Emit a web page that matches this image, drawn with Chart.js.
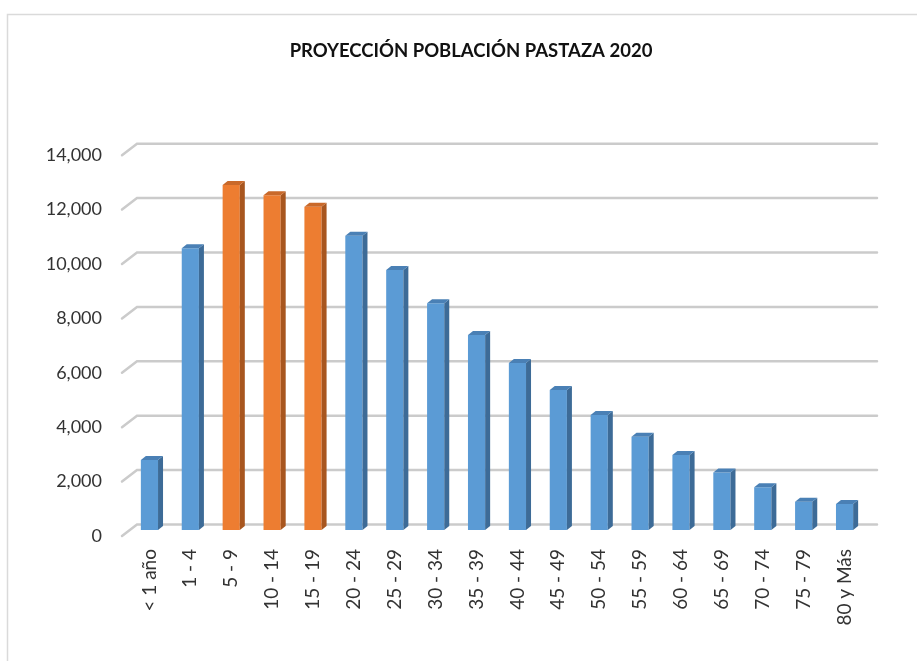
<!DOCTYPE html>
<html>
<head>
<meta charset="utf-8">
<script src="https://cdn.jsdelivr.net/npm/chart.js@4.4.1/dist/chart.umd.min.js"></script>
<style>
  html, body { margin: 0; padding: 0; background: #ffffff; }
  #wrap { position: relative; width: 917px; height: 661px; }
  canvas { display: block; }
</style>
</head>
<body>
<div id="wrap"><canvas id="c" width="917" height="661"></canvas></div>
<script>
// ---- data ----
const categories = ['< 1 año', '1 - 4', '5 - 9', '10 - 14', '15 - 19', '20 - 24', '25 - 29', '30 - 34', '35 - 39',
  '40 - 44', '45 - 49', '50 - 54', '55 - 59', '60 - 64', '65 - 69', '70 - 74', '75 - 79', '80 y Más'];
const population = [2570, 10360, 12680, 12310, 11880, 10820, 9560, 8340, 7170,
  6140, 5150, 4230, 3430, 2760, 2110, 1570, 1040, 960];
const highlightedGroups = ['5 - 9', '10 - 14', '15 - 19'];
const yTicks = [0, 2000, 4000, 6000, 8000, 10000, 12000, 14000];
const chartTitle = 'PROYECCIÓN POBLACIÓN PASTAZA 2020';

// ---- styles ----
const BLUE = { front: '#5b9bd5', side: '#3d6b97', top: '#4a80b5' };
const ORANGE = { front: '#ed7d31', side: '#a8561f', top: '#c9692a' };
const pal = categories.map(c => highlightedGroups.includes(c) ? ORANGE : BLUE);
const DX = 5, DY = 4;           // bar depth
const BACK_DX = 8, BACK_DY = 5.5;  // back wall offset
const FRONT_DX = 7, FRONT_DY = 6;  // front edge offset

const framePlugin = {
  id: 'frame',
  beforeDraw(chart) {
    const ctx = chart.ctx;
    ctx.save();
    ctx.strokeStyle = '#dadada';
    ctx.lineWidth = 1.5;
    ctx.beginPath();
    ctx.moveTo(7.5, 661);
    ctx.lineTo(7.5, 14.5);
    ctx.lineTo(917, 14.5);
    ctx.stroke();
    ctx.restore();
  }
};

const wallPlugin = {
  id: 'wall',
  beforeDatasetsDraw(chart) {
    const ctx = chart.ctx;
    const ys = chart.scales.y;
    const a = chart.chartArea;
    ctx.save();
    ctx.strokeStyle = '#cbcbcb';
    ctx.lineWidth = 2.5;
    ctx.lineCap = 'round';
    yTicks.forEach(v => {
      const yy = ys.getPixelForValue(v);
      ctx.beginPath();
      ctx.moveTo(a.left - FRONT_DX, yy + FRONT_DY);
      ctx.lineTo(a.left + BACK_DX, yy - BACK_DY);
      ctx.lineTo(a.right + 12, yy - BACK_DY);
      ctx.stroke();
    });
    ctx.restore();
  }
};

const bar3dPlugin = {
  id: 'bar3d',
  afterDatasetsDraw(chart) {
    const ctx = chart.ctx;
    const meta = chart.getDatasetMeta(0);
    ctx.save();
    meta.data.forEach((bar, i) => {
      const p = bar.getProps(['x', 'y', 'base', 'width'], true);
      const l = p.x - p.width / 2, r = p.x + p.width / 2;
      const t = p.y, b = p.base;
      // side face
      ctx.fillStyle = pal[i].side;
      ctx.beginPath();
      ctx.moveTo(r, t);
      ctx.lineTo(r + DX, t - DY);
      ctx.lineTo(r + DX, b - DY);
      ctx.lineTo(r, b);
      ctx.closePath();
      ctx.fill();
      // top face
      ctx.fillStyle = pal[i].top;
      ctx.beginPath();
      ctx.moveTo(l, t);
      ctx.lineTo(l + DX, t - DY);
      ctx.lineTo(r + DX, t - DY);
      ctx.lineTo(r, t);
      ctx.closePath();
      ctx.fill();
    });
    ctx.restore();
  }
};

new Chart(document.getElementById('c'), {
  type: 'bar',
  data: {
    labels: categories,
    datasets: [{
      data: population,
      backgroundColor: pal.map(p => p.front),
      borderWidth: 0,
      categoryPercentage: 1.0,
      barPercentage: 0.42
    }]
  },
  options: {
    responsive: false,
    animation: false,
    devicePixelRatio: 1,
    layout: { padding: { left: 25, right: 0, top: 0, bottom: 0 } },
    plugins: {
      legend: { display: false },
      tooltip: { enabled: false },
      title: {
        display: true,
        text: chartTitle,
        color: '#111111',
        font: { family: 'Lato', size: 18.5, weight: 'bold' },
        padding: { top: 40, bottom: 87 }
      }
    },
    scales: {
      x: {
        grid: { display: false, drawTicks: false },
        border: { display: false },
        ticks: {
          color: '#333333',
          font: { family: 'Lato', size: 19 },
          maxRotation: 90,
          minRotation: 90,
          padding: 19,
          autoSkip: false
        },
        afterFit(s) { s.height = 131; }
      },
      y: {
        min: 0,
        max: 14000,
        afterBuildTicks(s) { s.ticks = yTicks.map(v => ({ value: v })); },
        grid: { display: false, drawTicks: false },
        border: { display: false },
        ticks: {
          color: '#333333',
          font: { family: 'Lato', size: 18 },
          padding: 27,
          labelOffset: 6,
          callback: v => v.toLocaleString('en-US')
        },
        afterFit(s) { s.width = 104; }
      },
      y2: {
        position: 'right',
        display: true,
        grid: { display: false, drawTicks: false },
        border: { display: false },
        ticks: { display: false },
        afterFit(s) { s.width = 52; }
      }
    }
  },
  plugins: [framePlugin, wallPlugin, bar3dPlugin]
});
</script>
</body>
</html>
